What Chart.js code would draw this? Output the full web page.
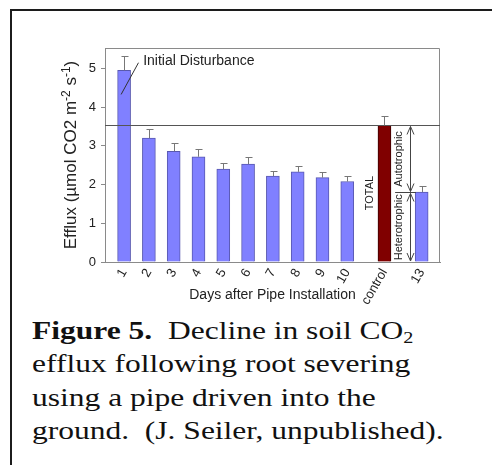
<!DOCTYPE html>
<html>
<head>
<meta charset="utf-8">
<title>Figure 5</title>
<script src="https://cdn.jsdelivr.net/npm/chart.js@4/dist/chart.umd.min.js"></script>
<style>
  body { margin: 0; background: #fff; width: 492px; height: 465px; overflow: hidden; position: relative; }
  #chartBox { position: absolute; left: 0; top: 0; width: 492px; height: 310px; }
  #frame { position: absolute; left: 10px; top: 9px; width: 490px; height: 470px;
           border-top: 2px solid #1c1c1c; border-left: 2px solid #1c1c1c; }
  #caption { position: absolute; left: 32px; top: 314px; white-space: nowrap; color: #111;
             font-family: 'Liberation Serif', 'Times New Roman', serif; font-size: 25px; line-height: 33.3px;
             transform: scaleX(1.26); transform-origin: 0 0; }
  #caption sub { font-size: 16px; vertical-align: -4px; line-height: 0; }
</style>
</head>
<body>
<div id="frame"></div>
<div id="chartBox"><canvas id="effluxChart"></canvas></div>
<div id="caption"><b>Figure 5.</b>&nbsp; Decline in soil CO<sub>2</sub><br>efflux following root severing<br>using a pipe driven into the<br>ground.&nbsp; (J. Seiler, unpublished).</div>

<script>
// data
const categories = ['1', '2', '3', '4', '5', '6', '7', '8', '9', '10', 'control', '13'];
const xPositions = [0, 1, 2, 3, 4, 5, 6, 7, 8, 9, 10.5, 12];
const efflux = [4.95, 3.20, 2.86, 2.72, 2.40, 2.53, 2.22, 2.33, 2.18, 2.08, 3.53, 1.81];
const stdErr = [0.37, 0.23, 0.21, 0.20, 0.17, 0.18, 0.14, 0.16, 0.14, 0.14, 0.24, 0.15];
const yTicks = [0, 1, 2, 3, 4, 5];
const totalLevel = 3.54;     // control (total) respiration
const heteroLevel = 1.81;    // day 13, heterotrophic only

const FONT = "'Liberation Sans', Arial, sans-serif";
const INK = '#222';
const AXIS = '#8a8a8a';

function arrowHead(ctx, x, y, dir) {
  // open V head, dir = 1 pointing down, -1 pointing up
  ctx.beginPath();
  ctx.moveTo(x - 3.5, y - dir * 8);
  ctx.lineTo(x, y);
  ctx.lineTo(x + 3.5, y - dir * 8);
  ctx.stroke();
}

function vText(ctx, text, x, y, size) {
  ctx.save();
  ctx.translate(x, y);
  ctx.rotate(-Math.PI / 2);
  ctx.font = size + 'px ' + FONT;
  ctx.textAlign = 'center';
  ctx.textBaseline = 'middle';
  ctx.fillText(text, 0, 0);
  ctx.restore();
}

const overlay = {
  id: 'overlay',
  afterDatasetsDraw(chart) {
    const { ctx, chartArea: a, scales: { x, y } } = chart;
    ctx.save();
    ctx.lineWidth = 1;

    // top and right frame of the plot
    ctx.strokeStyle = AXIS;
    ctx.beginPath();
    ctx.moveTo(a.left, a.top + 0.5);
    ctx.lineTo(a.right - 0.5, a.top + 0.5);
    ctx.lineTo(a.right - 0.5, a.bottom);
    ctx.stroke();

    // total line
    const yt = Math.round(y.getPixelForValue(totalLevel)) + 0.5;
    ctx.strokeStyle = '#555';
    ctx.beginPath();
    ctx.moveTo(a.left, yt);
    ctx.lineTo(a.right, yt);
    ctx.stroke();

    // error bars (upper half only)
    ctx.strokeStyle = '#777';
    efflux.forEach((v, i) => {
      const px = Math.round(x.getPixelForValue(xPositions[i])) + 0.5;
      const y0 = y.getPixelForValue(v);
      const y1 = Math.round(y.getPixelForValue(v + stdErr[i])) + 0.5;
      ctx.beginPath();
      ctx.moveTo(px, y0);
      ctx.lineTo(px, y1);
      ctx.moveTo(px - 3, y1);
      ctx.lineTo(px + 4, y1);
      ctx.stroke();
    });

    // autotrophic / heterotrophic arrows
    const ax = Math.round(x.getPixelForValue(11.53)) + 0.5;
    const yh = Math.round(y.getPixelForValue(heteroLevel)) + 0.5;
    const y0 = y.getPixelForValue(0);
    ctx.strokeStyle = '#444';
    ctx.beginPath();
    ctx.moveTo(ax, yt + 1);
    ctx.lineTo(ax, yh - 1);
    ctx.moveTo(ax, yh + 1);
    ctx.lineTo(ax, y0 - 1);
    ctx.moveTo(x.getPixelForValue(10.93), yh);
    ctx.lineTo(x.getPixelForValue(11.77), yh);
    ctx.stroke();
    arrowHead(ctx, ax, yt + 1, -1);
    arrowHead(ctx, ax, yh - 1, 1);
    arrowHead(ctx, ax, yh + 1, -1);
    arrowHead(ctx, ax, y0 - 1, 1);

    // leader line for the first day
    ctx.strokeStyle = '#333';
    ctx.beginPath();
    ctx.moveTo(x.getPixelForValue(0.58), y.getPixelForValue(5.15));
    ctx.lineTo(x.getPixelForValue(-0.12), y.getPixelForValue(4.33));
    ctx.stroke();

    ctx.fillStyle = INK;
    ctx.font = '14px ' + FONT;
    ctx.textBaseline = 'middle';
    ctx.textAlign = 'left';
    ctx.fillText('Initial Disturbance', x.getPixelForValue(0.77), y.getPixelForValue(5.18));

    vText(ctx, 'TOTAL', x.getPixelForValue(9.92), y.getPixelForValue(1.78), 11);
    vText(ctx, 'Autotrophic', x.getPixelForValue(11.09), (yt + yh) / 2, 11);
    vText(ctx, 'Heterotrophic', x.getPixelForValue(11.09), (yh + y0) / 2, 11);

    ctx.restore();
  },
  afterDraw(chart) {
    const { ctx, chartArea: a } = chart;
    ctx.save();
    ctx.fillStyle = INK;

    // x axis title
    ctx.font = '14px ' + FONT;
    ctx.textAlign = 'center';
    ctx.textBaseline = 'middle';
    ctx.fillText('Days after Pipe Installation', (a.left + a.right) / 2, 295);

    // y axis title with superscripts
    const parts = [
      ['Efflux (\u00b5mol CO2 m', 17, 0],
      ['-2', 12, -6],
      [' s', 17, 0],
      ['-1', 12, -6],
      [')', 17, 0]
    ];
    let total = 0;
    parts.forEach(p => { ctx.font = p[1] + 'px ' + FONT; total += ctx.measureText(p[0]).width; });
    ctx.translate(70, (a.top + a.bottom) / 2);
    ctx.rotate(-Math.PI / 2);
    ctx.textAlign = 'left';
    ctx.textBaseline = 'alphabetic';
    let cx = -total / 2;
    parts.forEach(p => {
      ctx.font = p[1] + 'px ' + FONT;
      ctx.fillText(p[0], cx, 6 + p[2]);
      cx += ctx.measureText(p[0]).width;
    });
    ctx.restore();
  }
};

const ctx = document.getElementById('effluxChart');
const effluxChart = new Chart(ctx, {
  type: 'bar',
  data: {
    datasets: [{
      data: efflux.map((v, i) => ({ x: xPositions[i], y: v })),
      backgroundColor: categories.map(c => c === 'control' ? '#800000' : '#8080ff'),
      borderColor: categories.map(c => c === 'control' ? '#3a0000' : '#5858b0'),
      borderWidth: 1,
      borderSkipped: 'bottom',
      barThickness: 13
    }]
  },
  options: {
    responsive: true,
    maintainAspectRatio: false,
    animation: false,
    layout: { padding: { left: 75, top: 48, right: 52, bottom: 0 } },
    plugins: {
      legend: { display: false },
      tooltip: { enabled: false }
    },
    scales: {
      x: {
        type: 'linear',
        offset: false,
        min: -0.77,
        max: 12.74,
        afterFit(s) { s.height = 48; },
        afterBuildTicks(s) { s.ticks = xPositions.map(v => ({ value: v })); },
        grid: { display: false },
        border: { display: true, color: AXIS },
        ticks: {
          autoSkip: false,
          minRotation: 60,
          maxRotation: 60,
          padding: -4,
          color: INK,
          font: { family: FONT, size: 13 },
          callback: (v) => categories[xPositions.indexOf(v)]
        }
      },
      y: {
        min: 0,
        max: 5.53,
        afterFit(s) { s.width = 30; },
        afterBuildTicks(s) { s.ticks = yTicks.map(v => ({ value: v })); },
        grid: { drawOnChartArea: false, tickLength: 4, color: AXIS },
        border: { color: AXIS },
        ticks: { padding: 5, color: INK, font: { family: FONT, size: 13 } }
      }
    }
  },
  plugins: [overlay]
});
</script>
</body>
</html>
